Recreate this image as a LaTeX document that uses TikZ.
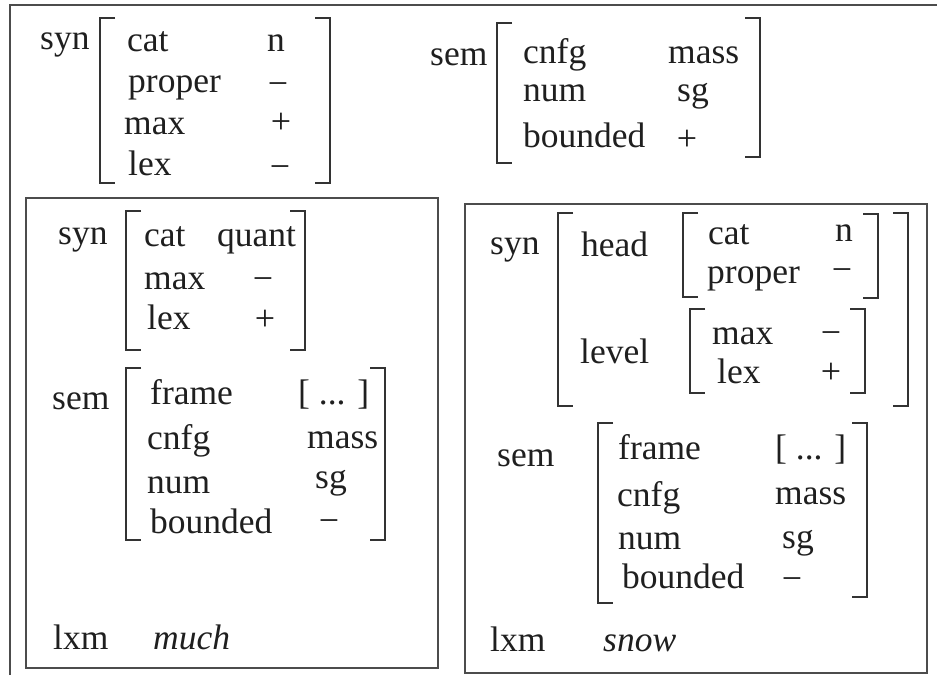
\documentclass[tikz,border=0pt]{standalone}
\usepackage{fontspec}
\setmainfont{Liberation Serif}
\begin{document}
\begin{tikzpicture}[x=1pt,y=-1pt,
  w/.style={anchor=base west,inner sep=0pt,text=black!88,font=\fontsize{35.5}{42}\selectfont},
  c/.style={anchor=base,inner sep=0pt,text=black!88,font=\fontsize{36}{42}\selectfont},
  brk/.style={draw=black!80,line width=1.6pt},
  boxl/.style={draw=black!70,line width=1.5pt}]
\useasboundingbox (0,0) rectangle (937,675);
\fill[white] (0,0) rectangle (937,675);
\newcommand\LB[3]{\draw[brk] ({#1+15},#2) -- (#1,#2) -- (#1,#3) -- ({#1+15},#3);}
\newcommand\RB[3]{\draw[brk] ({#1-15},#2) -- (#1,#2) -- (#1,#3) -- ({#1-15},#3);}
% outer frame
\draw[boxl] (10,675) -- (10,5) -- (937,5);
% top-left syn
\node[w] (a1) at (40,49) {syn};
\LB{100}{18}{183}\RB{330}{18}{183}
\node[w] (a2) at (127,51) {cat};
\node[w] (a3) at (267,51) {n};
\node[w] (a4) at (128,92) {proper};
\node[c] (a5) at (278,95) {−};
\node[w] (a6) at (124,134) {max};
\node[c] (a7) at (281,133) {+};
\node[w] (a8) at (128,175) {lex};
\node[c] (a9) at (280,178) {−};
% top-right sem
\node[w] (b1) at (430,65) {sem};
\LB{497}{23}{163}\RB{760}{18}{157}
\node[w] (b2) at (523,63) {cnfg};
\node[w] (b3) at (668,63) {mass};
\node[w] (b4) at (523,101) {num};
\node[w] (b5) at (677,101) {sg};
\node[w] (b6) at (523,147) {bounded};
\node[c] (b7) at (687,150) {+};
% left box
\draw[boxl] (26,198) rectangle (438,668);
\node[w] (c1) at (58,244) {syn};
\LB{126}{211}{350}\RB{305}{211}{350}
\node[w] (c2) at (144,246) {cat};
\node[w] (c3) at (217,246) {quant};
\node[w] (c4) at (144,289) {max};
\node[c] (c5) at (263,290) {−};
\node[w] (c6) at (147,329) {lex};
\node[c] (c7) at (265,330) {+};
\node[w] (c8) at (52,409) {sem};
\LB{126}{368}{540}\RB{385}{368}{540}
\node[w] (c9) at (150,404) {frame};
\node[w] (c10) at (298,404) {[ ... ]};
\node[w] (c11) at (147,449) {cnfg};
\node[w] (c12) at (307,448) {mass};
\node[w] (c13) at (147,493) {num};
\node[w] (c14) at (315,488) {sg};
\node[w] (c15) at (150,533) {bounded};
\node[c] (c16) at (329,532) {−};
\node[w] (c17) at (53,649) {lxm};
\node[w] (c18) at (153,649) {\itshape much};
% right box
\draw[boxl] (465,204) rectangle (927,673);
\node[w] (d1) at (490,254) {syn};
\LB{558}{213}{406}\RB{908}{213}{406}
\node[w] (d2) at (581,256) {head};
\LB{683}{213}{297}\RB{878}{214}{298}
\node[w] (d3) at (708,244) {cat};
\node[w] (d4) at (835,241) {n};
\node[w] (d5) at (707,283) {proper};
\node[c] (d6) at (842,281) {−};
\node[w] (d7) at (580,363) {level};
\LB{690}{309}{393}\RB{865}{309}{393}
\node[w] (d8) at (712,344) {max};
\node[c] (d9) at (831,344) {−};
\node[w] (d10) at (717,383) {lex};
\node[c] (d11) at (831,383) {+};
\node[w] (d12) at (497,466) {sem};
\LB{598}{423}{603}\RB{867}{423}{597}
\node[w] (d13) at (618,459) {frame};
\node[w] (d14) at (775,459) {[ ... ]};
\node[w] (d15) at (617,506) {cnfg};
\node[w] (d16) at (775,504) {mass};
\node[w] (d17) at (618,549) {num};
\node[w] (d18) at (782,548) {sg};
\node[w] (d19) at (622,588) {bounded};
\node[c] (d20) at (792,590) {−};
\node[w] (d21) at (490,651) {lxm};
\node[w] (d22) at (603,651) {\itshape snow};
\end{tikzpicture}
\end{document}
